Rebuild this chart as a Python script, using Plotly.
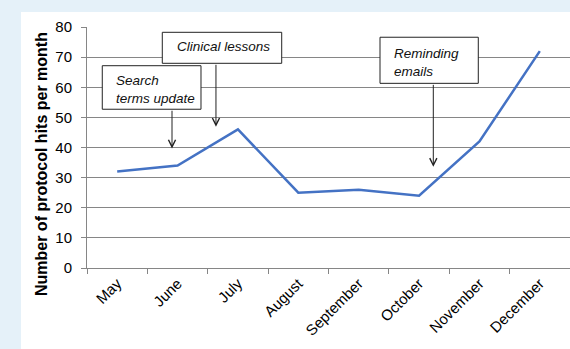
import plotly.graph_objects as go

months = ["May", "June", "July", "August", "September", "October", "November", "December"]
hits = [32, 34, 46, 25, 26, 24, 42, 72]

y_ticks = [0, 10, 20, 30, 40, 50, 60, 70, 80]

# annotation texts
notes = ["Search<br>terms update", "Clinical lessons", "Reminding<br>emails"]

FONT = "Liberation Sans, Arial, sans-serif"
GRID = "#868686"

fig = go.Figure()
fig.add_trace(go.Scatter(
    x=months, y=hits, mode="lines",
    line=dict(color="#4472C4", width=2.5),
    hoverinfo="skip", showlegend=False,
))

# white panel on light-blue page
shapes = [dict(type="rect", xref="paper", yref="paper",
               x0=-0.1366, x1=1.0, y0=-0.336, y1=1.0622,
               fillcolor="white", line=dict(width=0), layer="below")]

# annotation boxes (data-coordinate positions on category index axis)
boxes = [(-0.247, 1.388, 52.7, 67.15),
         (0.747, 2.725, 67.95, 78.24),
         (4.353, 5.981, 61.3, 76.6)]
for x0, x1, y0, y1 in boxes:
    shapes.append(dict(type="rect", xref="x", yref="y", x0=x0, x1=x1, y0=y0, y1=y1,
                       fillcolor="white", line=dict(color="#222222", width=1),
                       layer="above"))

annotations = []
text_pos = [(-0.053, 59.35), (0.957, 73.46), (4.557, 68.3)]
for (tx, ty), t in zip(text_pos, notes):
    annotations.append(dict(x=tx, y=ty, xref="x", yref="y", text=t, showarrow=False,
                            xanchor="left", yanchor="middle", align="left",
                            font=dict(family=FONT, size=13.5, color="#111111", style="italic")))

arrows = [(0.908, 39.7, 52.7), (1.636, 46.9, 67.95), (5.236, 33.6, 61.3)]
for ax_, tip, tail in arrows:
    annotations.append(dict(x=ax_, y=tip, xref="x", yref="y", ax=ax_, ay=tail,
                            axref="x", ayref="y", text="", showarrow=True,
                            arrowhead=5, arrowsize=1.4, arrowwidth=1, arrowcolor="#222222"))

# y axis title
annotations.append(dict(x=-0.0952, y=0.4315, xref="paper", yref="paper",
                        text="<b>Number of protocol hits per month</b>", textangle=-90,
                        showarrow=False, xanchor="center", yanchor="middle",
                        font=dict(family=FONT, size=16, color="black")))

fig.update_layout(
    width=570, height=349, autosize=False,
    margin=dict(l=87, r=0, t=27, b=81, pad=0),
    paper_bgcolor="#E5F1F9", plot_bgcolor="white",
    font=dict(family=FONT, color="black"),
    shapes=shapes, annotations=annotations,
    showlegend=False,
)
fig.update_xaxes(
    type="category", range=[-0.5, 7.5], tickson="boundaries",
    ticks="outside", ticklen=5, tickcolor=GRID, tickwidth=1,
    showline=True, linecolor=GRID, linewidth=1, showgrid=False,
    tickangle=-45, tickfont=dict(family=FONT, size=15, color="black"),
)
fig.update_yaxes(
    range=[0, 80], tickvals=y_ticks, ticks="outside", ticklen=5, tickcolor=GRID,
    showline=True, linecolor=GRID, linewidth=1, showgrid=True, gridcolor=GRID,
    gridwidth=1, zeroline=False, ticklabelstandoff=6,
    tickfont=dict(family=FONT, size=15, color="black"),
)

fig.write_html("out.html")
